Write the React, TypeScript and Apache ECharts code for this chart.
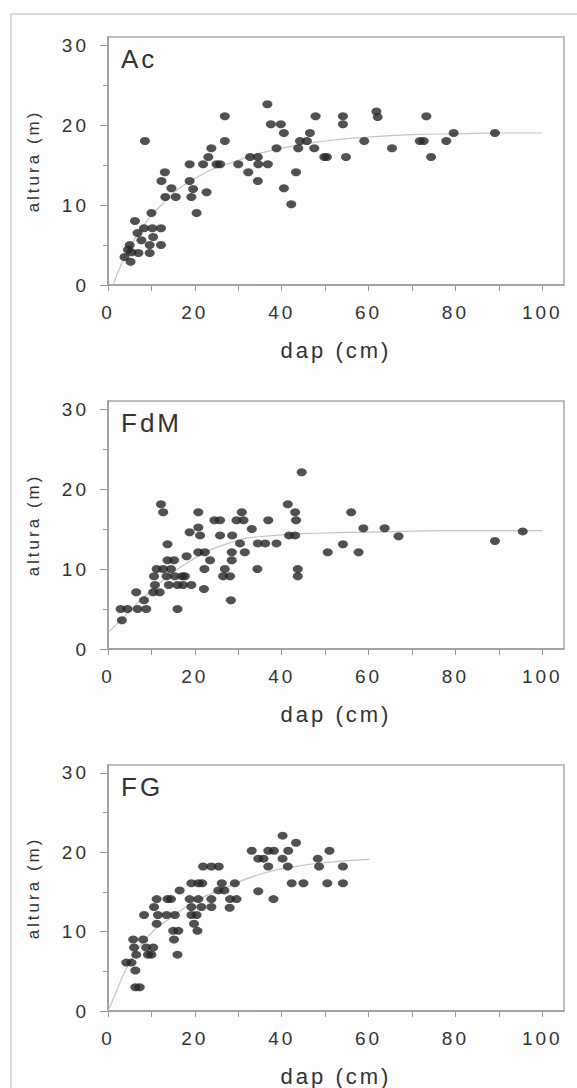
import React, { useEffect, useRef } from "react";
import * as echarts from "echarts";

// ---------- data ----------
const panelNames = ["Ac", "FdM", "FG"];
const xAxisName = "dap (cm)";
const yAxisName = "altura (m)";
const xTickValues = [0, 10, 20, 30, 40, 50, 60, 70, 80, 90, 100];
const xLabelValues = [0, 20, 40, 60, 80, 100];
const yMinorTickValues = [0, 5, 10, 15, 20, 25, 30];
const yLabelValues = [0, 10, 20, 30];

const acPoints: [number, number][] = [
  [8.5, 18.0], [26.9, 21.1], [26.9, 18.0], [36.7, 22.6], [37.5, 20.1], [39.8, 20.1],
  [40.5, 19.0], [38.8, 17.1], [47.8, 21.1], [46.5, 19.0], [44.2, 18.0], [45.8, 18.0],
  [43.8, 17.1], [47.5, 17.1], [49.8, 16.0], [23.8, 17.1], [23.1, 16.0], [21.9, 15.1],
  [25.0, 15.1], [25.8, 15.1], [18.8, 15.1], [18.8, 13.0], [19.6, 12.0], [19.2, 11.0],
  [22.7, 11.6], [20.4, 9.0], [30.0, 15.1], [32.7, 16.0], [34.5, 16.0], [34.6, 15.1],
  [36.8, 15.1], [32.3, 14.1], [34.5, 13.0], [40.5, 12.1], [42.2, 10.1], [43.3, 14.1],
  [13.1, 14.1], [12.3, 13.0], [14.6, 12.1], [13.2, 11.0], [15.6, 11.0], [10.0, 9.0],
  [6.2, 8.0], [8.3, 7.1], [10.2, 7.1], [12.2, 7.1], [6.8, 6.5], [10.4, 6.0],
  [7.7, 5.6], [9.6, 5.0], [12.2, 5.0], [5.0, 5.0], [9.6, 4.0], [7.0, 4.0],
  [3.8, 3.5], [5.4, 4.1], [5.2, 2.9], [4.6, 4.4],
  [54.1, 21.1], [54.1, 20.1], [61.8, 21.7], [62.1, 21.0], [73.3, 21.1], [50.4, 16.0],
  [54.8, 16.0], [59.0, 18.0], [65.4, 17.1], [71.8, 18.0], [72.7, 18.0], [74.4, 16.0],
  [77.9, 18.0], [79.6, 19.0], [89.1, 19.0],
];
const acCurve: [number, number][] = [
  [1.2, 0], [3.0, 2.5], [6.2, 5.8], [12.3, 10.0], [20, 13.3], [30, 15.6], [40, 17.1],
  [50, 18.0], [60, 18.5], [70, 18.8], [80, 18.9], [90, 19.0], [100, 19.0],
];

const fdmPoints: [number, number][] = [
  [44.6, 22.1], [12.2, 18.1], [12.7, 17.1], [20.8, 17.1], [24.5, 16.1], [25.8, 16.1],
  [30.8, 17.1], [29.6, 16.1], [31.2, 16.1], [36.9, 16.1], [41.4, 18.1], [43.1, 17.1],
  [43.3, 16.1], [33.1, 15.0], [20.8, 15.2], [18.8, 14.6], [21.2, 14.2], [25.8, 14.2],
  [28.6, 14.2], [41.7, 14.2], [43.1, 14.2], [30.4, 13.2], [34.5, 13.2], [36.2, 13.2],
  [38.8, 13.2], [13.7, 13.1], [18.1, 11.6], [20.8, 12.1], [22.3, 12.1], [28.5, 12.1],
  [31.5, 12.1], [23.5, 11.1], [28.5, 11.1], [22.2, 10.0], [26.9, 10.0], [34.4, 10.0],
  [43.7, 10.0], [26.5, 9.1], [28.1, 9.1], [43.7, 9.1], [22.1, 7.5], [28.3, 6.1],
  [13.7, 11.1], [15.2, 11.1], [11.2, 10.0], [12.7, 10.0], [14.5, 10.0], [10.6, 9.1],
  [13.5, 9.1], [15.4, 9.1], [17.1, 9.1], [17.7, 9.1], [10.8, 8.0], [14.0, 8.0],
  [16.0, 8.0], [17.3, 8.0], [19.2, 8.0], [10.4, 7.1], [11.9, 7.1], [6.5, 7.1],
  [8.3, 6.1], [2.9, 5.0], [4.5, 5.0], [6.8, 5.0], [8.8, 5.0], [16.0, 5.0], [3.2, 3.6],
  [56.0, 17.1], [58.8, 15.1], [63.7, 15.1], [66.9, 14.1], [50.6, 12.1], [54.1, 13.1],
  [57.7, 12.1], [89.1, 13.5], [95.5, 14.7],
];
const fdmCurve: [number, number][] = [
  [0.3, 2.2], [4.6, 4.5], [8.5, 6.6], [16.9, 10.3], [27.7, 13.2], [38.5, 14.2],
  [50, 14.5], [60, 14.6], [78, 14.8], [100, 14.8],
];

const fgPoints: [number, number][] = [
  [40.2, 22.1], [43.3, 21.2], [33.1, 20.2], [36.9, 20.2], [38.2, 20.2], [41.5, 20.2],
  [34.6, 19.2], [35.8, 19.2], [40.2, 19.2], [36.9, 18.2], [41.4, 18.2], [48.3, 19.2],
  [48.6, 18.2], [42.3, 16.1], [45.0, 16.1], [34.6, 15.1], [38.1, 14.1], [21.9, 18.2],
  [23.8, 18.2], [25.5, 18.2], [19.2, 16.1], [20.8, 16.1], [21.7, 16.1], [26.2, 16.1],
  [29.2, 16.1], [16.5, 15.2], [25.4, 15.2], [26.8, 15.2], [18.8, 14.1], [20.8, 14.1],
  [23.8, 14.1], [28.1, 14.1], [29.6, 14.1], [11.2, 14.1], [13.7, 14.1], [14.5, 14.1],
  [10.6, 13.1], [19.2, 13.1], [21.5, 13.1], [23.8, 13.1], [28.0, 13.0], [8.3, 12.1],
  [11.5, 12.1], [13.5, 12.1], [15.4, 12.1], [19.2, 12.1], [20.4, 12.1], [11.2, 11.0],
  [19.8, 11.0], [15.0, 10.1], [16.2, 10.1], [20.6, 10.1], [15.2, 9.0], [5.8, 9.0],
  [8.1, 9.0], [6.0, 8.0], [8.8, 8.0], [10.4, 8.0], [6.5, 7.1], [9.2, 7.1], [10.0, 7.1],
  [16.0, 7.1], [4.2, 6.1], [5.4, 6.1], [6.3, 5.1], [6.3, 3.0], [7.3, 3.0],
  [51.0, 20.2], [54.1, 18.2], [50.5, 16.1], [54.1, 16.1],
];
const fgCurve: [number, number][] = [
  [0, 0], [1.5, 1.9], [4.6, 5.7], [9.2, 9.4], [13.8, 11.5], [20, 13.8], [27.7, 15.7],
  [35.4, 17.3], [43, 18.2], [50, 18.7], [60.2, 19.1],
];

const panelPoints = [acPoints, fdmPoints, fgPoints];
const panelCurves = [acCurve, fdmCurve, fgCurve];

// ---------- layout / style ----------
const W = 577;
const H = 1088;
const GRID_LEFT = 108;
const GRID_WIDTH = 456;
const GRID_HEIGHT = 248;
const GRID_TOPS = [37, 401, 765];
const FONT = "'Liberation Sans', Arial, sans-serif";
const TEXT = "#333333";
const AXIS = "#9a9a9a";

export default function App() {
  const ref = useRef<HTMLDivElement>(null);

  useEffect(() => {
    if (!ref.current) return;
    const chart = echarts.init(ref.current, undefined, { renderer: "svg" });

    const grid: any[] = [];
    const xAxis: any[] = [];
    const yAxis: any[] = [];
    const series: any[] = [];
    const graphic: any[] = [
      {
        type: "rect",
        shape: { x: 11, y: 14, width: 700, height: 1200 },
        style: { fill: "none", stroke: "#cfcfcf", lineWidth: 1.5 },
        silent: true,
      },
    ];

    panelNames.forEach((name, i) => {
      const top = GRID_TOPS[i];
      grid.push({
        left: GRID_LEFT,
        top,
        width: GRID_WIDTH,
        height: GRID_HEIGHT,
        show: true,
        borderColor: "#a8a8a8",
        borderWidth: 1.5,
        containLabel: false,
      });
      xAxis.push({
        type: "value",
        gridIndex: i,
        min: 0,
        max: 105,
        position: "bottom",
        axisLine: { show: true, lineStyle: { color: AXIS, width: 1.5 } },
        axisTick: { show: true, customValues: xTickValues, length: 6, lineStyle: { color: AXIS } },
        axisLabel: {
          customValues: xLabelValues,
          fontSize: 19,
          color: TEXT,
          fontFamily: FONT,
          margin: 18,
        },
        splitLine: { show: false },
        name: xAxisName,
        nameLocation: "middle",
        nameGap: 54,
        nameTextStyle: { fontSize: 22, color: TEXT, fontFamily: FONT },
      });
      yAxis.push({
        type: "value",
        gridIndex: i,
        min: 0,
        max: 31,
        position: "left",
        axisLine: { show: true, lineStyle: { color: AXIS, width: 1.5 } },
        axisTick: { show: true, customValues: yMinorTickValues, length: 5, lineStyle: { color: AXIS } },
        axisLabel: {
          customValues: yLabelValues,
          fontSize: 19,
          color: TEXT,
          fontFamily: FONT,
          margin: 19,
        },
        splitLine: { show: false },
        name: yAxisName,
        nameLocation: "middle",
        nameGap: 66,
        nameTextStyle: { fontSize: 17, color: TEXT, fontFamily: FONT },
      });
      yAxis.push({
        type: "value",
        gridIndex: i,
        min: 0,
        max: 31,
        position: "left",
        axisLine: { show: false },
        axisTick: { show: true, customValues: yLabelValues, length: 8, lineStyle: { color: AXIS } },
        axisLabel: { show: false },
        splitLine: { show: false },
      });
      series.push({
        type: "line",
        xAxisIndex: i,
        yAxisIndex: i * 2,
        data: panelCurves[i],
        smooth: true,
        showSymbol: false,
        lineStyle: { color: "#c4c4c4", width: 1.2 },
        z: 1,
        silent: true,
      });
      series.push({
        type: "scatter",
        xAxisIndex: i,
        yAxisIndex: i * 2,
        data: panelPoints[i],
        symbol: "circle",
        symbolSize: [10, 8],
        itemStyle: { color: "#262626" },
        z: 3,
      });
      graphic.push({
        type: "text",
        x: 121,
        y: top + 9,
        style: {
          text: name,
          fontSize: 26,
          fontFamily: FONT,
          fill: TEXT,
          textVerticalAlign: "top",
        },
      });
    });

    chart.setOption({
      animation: false,
      backgroundColor: "#fdfdfd",
      grid,
      xAxis,
      yAxis,
      series,
      graphic,
    });

    return () => chart.dispose();
  }, []);

  return (
    <>
      <style>{`.chartbox text { letter-spacing: 3px; }`}</style>
      <div
        ref={ref}
        className="chartbox"
        style={{ position: "absolute", left: 0, top: 0, width: W, height: H }}
      />
    </>
  );
}
